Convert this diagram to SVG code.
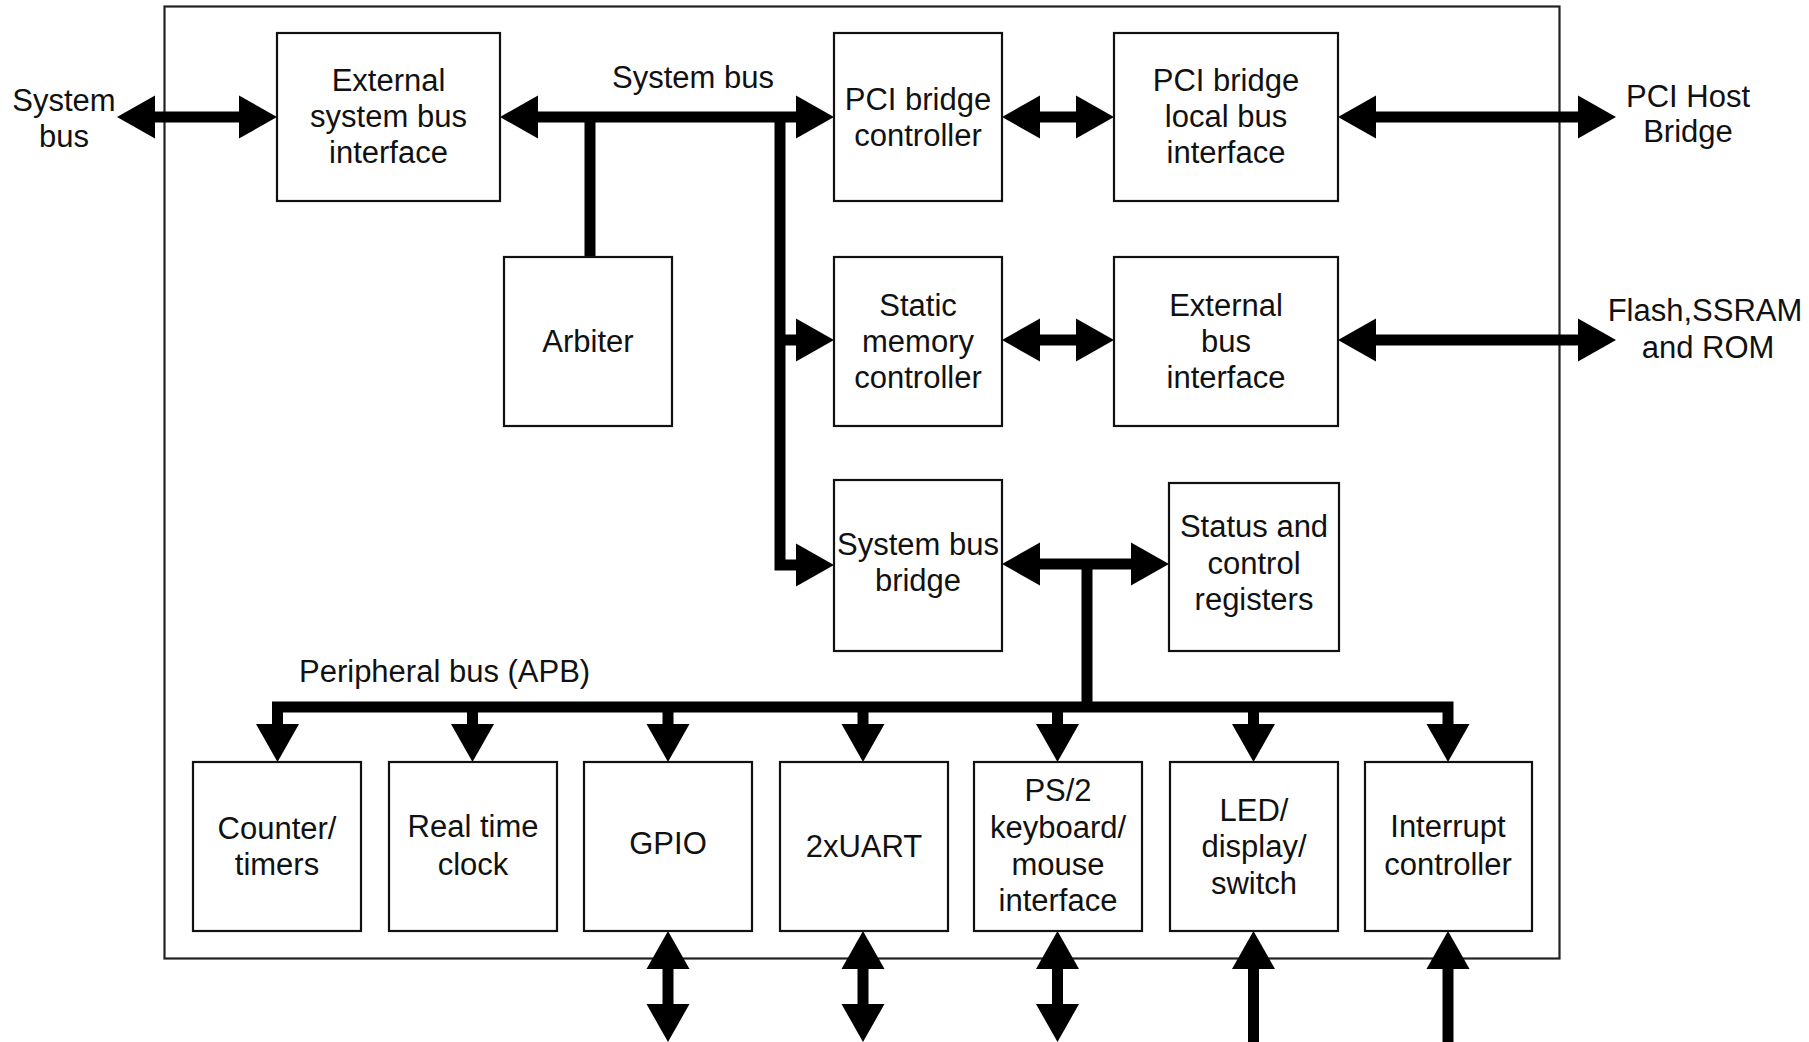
<svg xmlns="http://www.w3.org/2000/svg" xmlns:xlink="http://www.w3.org/1999/xlink" width="1809" height="1042" viewBox="0 0 1809 1042">
<style>
.box{fill:#fff;stroke:#111;stroke-width:2.2}
.frame{fill:none;stroke:#222;stroke-width:2.2}
.t{font-family:"Liberation Sans",Arial,sans-serif;font-size:31px;fill:#111;text-anchor:middle}
.ts{font-family:"Liberation Sans",Arial,sans-serif;font-size:31px;fill:#111}
.w{fill:none;stroke:#000;stroke-width:11;stroke-linejoin:miter;stroke-linecap:butt}
.ah{fill:#000}
</style>
<defs>
<path id="ah" d="M0,0 L-38,-21.5 L-38,21.5 Z"/>
</defs>
<rect width="1809" height="1042" fill="#fff"/>
<rect id="frame" class="frame" x="164.5" y="6.5" width="1395" height="952"/>

<g id="connectors">
  <!-- external system bus -->
  <line class="w" x1="155" y1="117" x2="240" y2="117"/>
  <use href="#ah" class="ah" transform="translate(117,117) rotate(180)"/>
  <use href="#ah" class="ah" transform="translate(277,117)"/>
  <!-- internal system bus -->
  <line class="w" x1="537" y1="117" x2="800" y2="117"/>
  <use href="#ah" class="ah" transform="translate(500,117) rotate(180)"/>
  <use href="#ah" class="ah" transform="translate(834,117)"/>
  <!-- arbiter -->
  <line class="w" x1="590" y1="117" x2="590" y2="258"/>
  <!-- trunk -->
  <polyline class="w" points="780,117 780,565 800,565"/>
  <use href="#ah" class="ah" transform="translate(834,565)"/>
  <line class="w" x1="780" y1="340" x2="800" y2="340"/>
  <use href="#ah" class="ah" transform="translate(834,340)"/>
  <!-- PCI ctrl <-> local -->
  <line class="w" x1="1038" y1="117" x2="1078" y2="117"/>
  <use href="#ah" class="ah" transform="translate(1002,117) rotate(180)"/>
  <use href="#ah" class="ah" transform="translate(1114,117)"/>
  <!-- PCI local <-> host -->
  <line class="w" x1="1374" y1="117" x2="1580" y2="117"/>
  <use href="#ah" class="ah" transform="translate(1338,117) rotate(180)"/>
  <use href="#ah" class="ah" transform="translate(1616,117)"/>
  <!-- static <-> ext bus -->
  <line class="w" x1="1038" y1="340" x2="1078" y2="340"/>
  <use href="#ah" class="ah" transform="translate(1002,340) rotate(180)"/>
  <use href="#ah" class="ah" transform="translate(1114,340)"/>
  <!-- ext bus <-> flash -->
  <line class="w" x1="1374" y1="340" x2="1580" y2="340"/>
  <use href="#ah" class="ah" transform="translate(1338,340) rotate(180)"/>
  <use href="#ah" class="ah" transform="translate(1616,340)"/>
  <!-- SBB <-> status -->
  <line class="w" x1="1038" y1="564" x2="1133" y2="564"/>
  <use href="#ah" class="ah" transform="translate(1002,564) rotate(180)"/>
  <use href="#ah" class="ah" transform="translate(1169,564)"/>
  <line class="w" x1="1087" y1="564" x2="1087" y2="707"/>
  <!-- peripheral bus -->
  <polyline class="w" points="277.5,726 277.5,707 1448,707 1448,726"/>
  <line class="w" x1="472.5" y1="707" x2="472.5" y2="726"/>
  <line class="w" x1="668" y1="707" x2="668" y2="726"/>
  <line class="w" x1="863" y1="707" x2="863" y2="726"/>
  <line class="w" x1="1057.5" y1="707" x2="1057.5" y2="726"/>
  <line class="w" x1="1253.5" y1="707" x2="1253.5" y2="726"/>
  <use href="#ah" class="ah" transform="translate(277.5,762) rotate(90)"/>
  <use href="#ah" class="ah" transform="translate(472.5,762) rotate(90)"/>
  <use href="#ah" class="ah" transform="translate(668,762) rotate(90)"/>
  <use href="#ah" class="ah" transform="translate(863,762) rotate(90)"/>
  <use href="#ah" class="ah" transform="translate(1057.5,762) rotate(90)"/>
  <use href="#ah" class="ah" transform="translate(1253.5,762) rotate(90)"/>
  <use href="#ah" class="ah" transform="translate(1448,762) rotate(90)"/>
  <!-- bottom external connections -->
  <line class="w" x1="668" y1="966" x2="668" y2="1006"/>
  <use href="#ah" class="ah" transform="translate(668,931) rotate(-90)"/>
  <use href="#ah" class="ah" transform="translate(668,1042) rotate(90)"/>
  <line class="w" x1="863" y1="966" x2="863" y2="1006"/>
  <use href="#ah" class="ah" transform="translate(863,931) rotate(-90)"/>
  <use href="#ah" class="ah" transform="translate(863,1042) rotate(90)"/>
  <line class="w" x1="1057.5" y1="966" x2="1057.5" y2="1006"/>
  <use href="#ah" class="ah" transform="translate(1057.5,931) rotate(-90)"/>
  <use href="#ah" class="ah" transform="translate(1057.5,1042) rotate(90)"/>
  <line class="w" x1="1253.5" y1="966" x2="1253.5" y2="1042"/>
  <use href="#ah" class="ah" transform="translate(1253.5,931) rotate(-90)"/>
  <line class="w" x1="1448" y1="966" x2="1448" y2="1042"/>
  <use href="#ah" class="ah" transform="translate(1448,931) rotate(-90)"/>
</g>

<g id="labels">
  <text class="t" x="64" y="111">System</text>
  <text class="t" x="64" y="147">bus</text>
  <text class="ts" x="612" y="88">System bus</text>
  <text class="t" x="1688" y="107">PCI Host</text>
  <text class="t" x="1688" y="142">Bridge</text>
  <text class="t" x="1705" y="321">Flash,SSRAM</text>
  <text class="t" x="1708" y="358">and ROM</text>
  <text class="ts" x="299" y="682">Peripheral bus (APB)</text>
</g>

<g id="ext-sys-bus-if">
  <rect class="box" x="277" y="33" width="223" height="168"/>
  <text class="t" x="388.5" y="91">External</text>
  <text class="t" x="388.5" y="127">system bus</text>
  <text class="t" x="388.5" y="163">interface</text>
</g>
<g id="pci-bridge-ctrl">
  <rect class="box" x="834" y="33" width="168" height="168"/>
  <text class="t" x="918" y="110">PCI bridge</text>
  <text class="t" x="918" y="146">controller</text>
</g>
<g id="pci-bridge-local">
  <rect class="box" x="1114" y="33" width="224" height="168"/>
  <text class="t" x="1226" y="91">PCI bridge</text>
  <text class="t" x="1226" y="127">local bus</text>
  <text class="t" x="1226" y="163">interface</text>
</g>
<g id="arbiter">
  <rect class="box" x="504" y="257" width="168" height="169"/>
  <text class="t" x="588" y="352">Arbiter</text>
</g>
<g id="static-mem">
  <rect class="box" x="834" y="257" width="168" height="169"/>
  <text class="t" x="918" y="316">Static</text>
  <text class="t" x="918" y="352">memory</text>
  <text class="t" x="918" y="388">controller</text>
</g>
<g id="ext-bus-if">
  <rect class="box" x="1114" y="257" width="224" height="169"/>
  <text class="t" x="1226" y="316">External</text>
  <text class="t" x="1226" y="352">bus</text>
  <text class="t" x="1226" y="388">interface</text>
</g>
<g id="sys-bus-bridge">
  <rect class="box" x="834" y="480" width="168" height="171"/>
  <text class="t" x="918" y="555">System bus</text>
  <text class="t" x="918" y="591">bridge</text>
</g>
<g id="status-regs">
  <rect class="box" x="1169" y="483" width="170" height="168"/>
  <text class="t" x="1254" y="537">Status and</text>
  <text class="t" x="1254" y="574">control</text>
  <text class="t" x="1254" y="610">registers</text>
</g>
<g id="counter">
  <rect class="box" x="193" y="762" width="168" height="169"/>
  <text class="t" x="277" y="839">Counter/</text>
  <text class="t" x="277" y="875">timers</text>
</g>
<g id="rtc">
  <rect class="box" x="389" y="762" width="168" height="169"/>
  <text class="t" x="473" y="837">Real time</text>
  <text class="t" x="473" y="875">clock</text>
</g>
<g id="gpio">
  <rect class="box" x="584" y="762" width="168" height="169"/>
  <text class="t" x="668" y="854">GPIO</text>
</g>
<g id="uart">
  <rect class="box" x="780" y="762" width="168" height="169"/>
  <text class="t" x="864" y="857">2xUART</text>
</g>
<g id="ps2">
  <rect class="box" x="974" y="762" width="168" height="169"/>
  <text class="t" x="1058" y="801">PS/2</text>
  <text class="t" x="1058" y="838">keyboard/</text>
  <text class="t" x="1058" y="875">mouse</text>
  <text class="t" x="1058" y="911">interface</text>
</g>
<g id="led">
  <rect class="box" x="1170" y="762" width="168" height="169"/>
  <text class="t" x="1254" y="821">LED/</text>
  <text class="t" x="1254" y="857">display/</text>
  <text class="t" x="1254" y="894">switch</text>
</g>
<g id="interrupt">
  <rect class="box" x="1365" y="762" width="167" height="169"/>
  <text class="t" x="1448" y="837">Interrupt</text>
  <text class="t" x="1448" y="875">controller</text>
</g>
</svg>
